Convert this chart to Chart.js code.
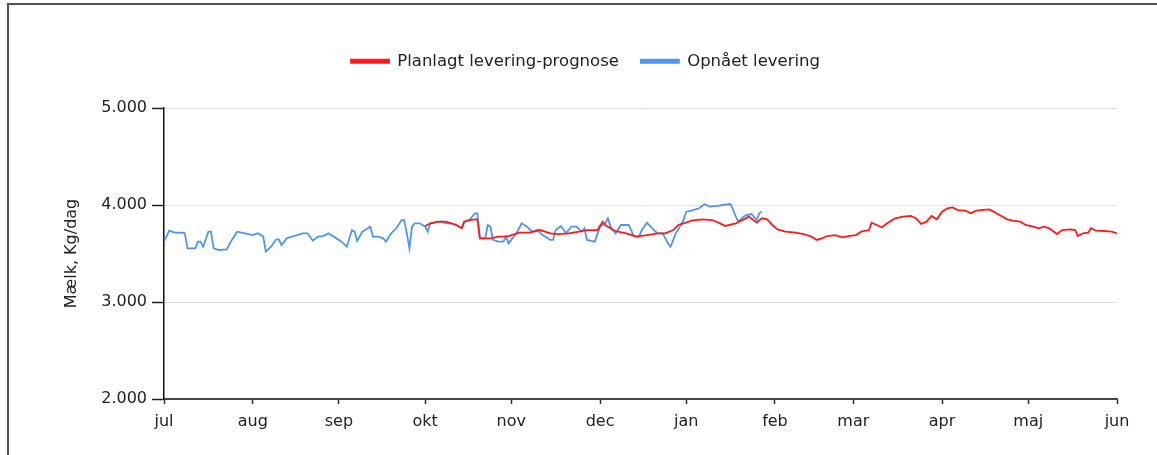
<!DOCTYPE html>
<html lang="da">
<head>
<meta charset="UTF-8">
<title>Mælk, Kg/dag</title>
<script src="https://cdn.jsdelivr.net/npm/chart.js"></script>
<style>
  html, body { margin: 0; padding: 0; background: #fff; }
  #frame { position: absolute; left: 7px; top: 3px; width: 1200px; height: 500px;
           border-left: 2px solid #555; border-top: 2px solid #555; }
  #wrap { position: absolute; left: 0; top: 0; width: 1157px; height: 455px; }
</style>
</head>
<body>
<div id="frame"></div>
<div id="wrap"><canvas id="milkChart" width="1157" height="455"></canvas></div>
<script>
// x positions in days from 1 jul
const monthDays = [0, 34, 67, 100, 133, 167, 200, 234, 264, 298, 331, 365];
const monthLabels = ['jul', 'aug', 'sep', 'okt', 'nov', 'dec', 'jan', 'feb', 'mar', 'apr', 'maj', 'jun'];
const yTicks = [2000, 3000, 4000, 5000];

// Opnået levering
const blueDays = [0,2,4,7,8,9,12,13,14,15,17,18,19,21,24,26,28,31,34,36,38,39,41,43,44,45,47,49,51,53,55,57,59,61,63,65,68,70,72,73,74,76,77,79,80,82,84,85,87,89,91,92,93,94,95,96,98,100,101,102,106,108,110,112,114,115,117,119,120,121,123,124,125,126,128,130,131,132,133,135,137,139,141,143,145,146,148,149,150,152,154,156,158,160,161,162,165,167,169,170,171,173,175,178,180,182,183,185,187,189,191,193,194,196,197,199,200,202,205,207,209,212,214,217,218,219,220,222,223,225,227,228,229];
const blueValues = [3622,3735,3715,3715,3708,3553,3553,3622,3622,3570,3725,3725,3553,3536,3543,3640,3725,3708,3690,3708,3674,3519,3570,3646,3646,3588,3656,3674,3690,3708,3708,3632,3674,3680,3708,3674,3622,3570,3742,3725,3630,3725,3742,3777,3674,3674,3656,3622,3708,3760,3845,3845,3708,3553,3777,3811,3811,3777,3725,3811,3828,3811,3811,3794,3760,3828,3845,3914,3914,3656,3656,3794,3777,3640,3622,3622,3674,3605,3640,3708,3811,3777,3725,3742,3690,3674,3640,3640,3742,3784,3708,3777,3777,3725,3760,3640,3622,3777,3811,3863,3777,3708,3794,3794,3674,3674,3742,3818,3760,3708,3708,3605,3570,3708,3749,3845,3931,3942,3966,4010,3983,3990,4000,4010,3948,3880,3828,3880,3897,3907,3845,3914,3931];

// Planlagt levering-prognose
const redDays = [100,102,105,108,110,112,114,115,117,119,120,121,125,128,130,132,136,140,144,148,151,155,159,162,166,168,169,172,174,177,181,185,189,192,195,197,200,202,206,210,213,215,219,222,224,227,229,231,233,235,238,242,245,248,250,252,254,257,260,262,265,267,270,271,273,275,277,280,283,286,288,290,292,294,296,298,300,302,304,307,309,311,313,316,317,320,323,325,328,330,333,335,337,339,340,342,344,347,349,350,352,354,355,357,360,363,365];
const redValues = [3780,3811,3828,3828,3811,3794,3760,3828,3845,3852,3852,3656,3656,3673,3674,3680,3715,3715,3742,3708,3700,3708,3725,3742,3742,3828,3794,3742,3725,3708,3674,3690,3708,3708,3742,3794,3818,3838,3852,3845,3811,3784,3811,3852,3880,3818,3863,3852,3794,3749,3725,3715,3701,3674,3640,3656,3680,3690,3667,3680,3690,3725,3742,3818,3794,3770,3811,3863,3880,3887,3863,3804,3828,3887,3852,3931,3966,3976,3948,3942,3914,3942,3948,3955,3942,3897,3852,3838,3828,3794,3777,3760,3777,3760,3742,3701,3742,3749,3742,3680,3708,3715,3760,3735,3732,3725,3708];

const toPoints = (xs, ys) => xs.map((d, i) => ({ x: d, y: ys[i] }));

const font = { family: 'DejaVu Sans', size: 16 };
const textColor = '#222';
const padLeft = 54;

const legendMargin = {
  id: 'legendMargin',
  beforeInit(chart) {
    const fit = chart.legend.fit;
    chart.legend.fit = function () {
      fit.bind(chart.legend)();
      this.height = 108 - 31;
    };
  }
};

new Chart(document.getElementById('milkChart'), {
  type: 'line',
  data: {
    datasets: [
      {
        label: 'Planlagt levering-prognose',
        data: toPoints(redDays, redValues),
        borderColor: '#ff1a1a',
        backgroundColor: '#ff1a1a',
        borderWidth: 1.8,
        pointRadius: 0,
        fill: false
      },
      {
        label: 'Opnået levering',
        data: toPoints(blueDays, blueValues),
        borderColor: '#4f95ee',
        backgroundColor: '#4f95ee',
        borderWidth: 1.8,
        pointRadius: 0,
        fill: false
      }
    ]
  },
  options: {
    responsive: false,
    animation: false,
    layout: { padding: { top: 31, left: padLeft, right: 40, bottom: 0 } },
    plugins: {
      legend: {
        labels: {
          color: textColor,
          font: { family: 'DejaVu Sans', size: 16.5 },
          boxWidth: 38,
          boxHeight: 3,
          padding: 22
        }
      },
      tooltip: { enabled: false }
    },
    scales: {
      x: {
        type: 'linear',
        min: 0,
        max: 365,
        afterBuildTicks: s => { s.ticks = monthDays.map(v => ({ value: v })); },
        afterFit: s => { s.height = 56; },
        ticks: {
          autoSkip: false,
          maxRotation: 0,
          padding: 8,
          color: textColor,
          font: font,
          callback: v => monthLabels[monthDays.indexOf(v)]
        },
        grid: { drawOnChartArea: false, tickLength: 5, tickColor: '#333', tickWidth: 1.5 },
        border: { color: '#444', width: 2 }
      },
      y: {
        min: 2000,
        max: 5000,
        afterBuildTicks: s => { s.ticks = yTicks.map(v => ({ value: v })); },
        afterFit: s => { s.width = 164 - padLeft; },
        title: {
          display: true,
          text: 'Mælk, Kg/dag',
          color: textColor,
          font: font,
          padding: { top: 72 - padLeft - 9.6, bottom: 0 }
        },
        ticks: {
          padding: 5,
          color: textColor,
          font: font,
          callback: v => v.toLocaleString('da-DK')
        },
        grid: { color: '#dedede', lineWidth: 1, tickLength: 12, tickColor: '#222', tickWidth: 1.5 },
        border: { color: '#111', width: 1.5 }
      }
    }
  },
  plugins: [legendMargin]
});
</script>
</body>
</html>
